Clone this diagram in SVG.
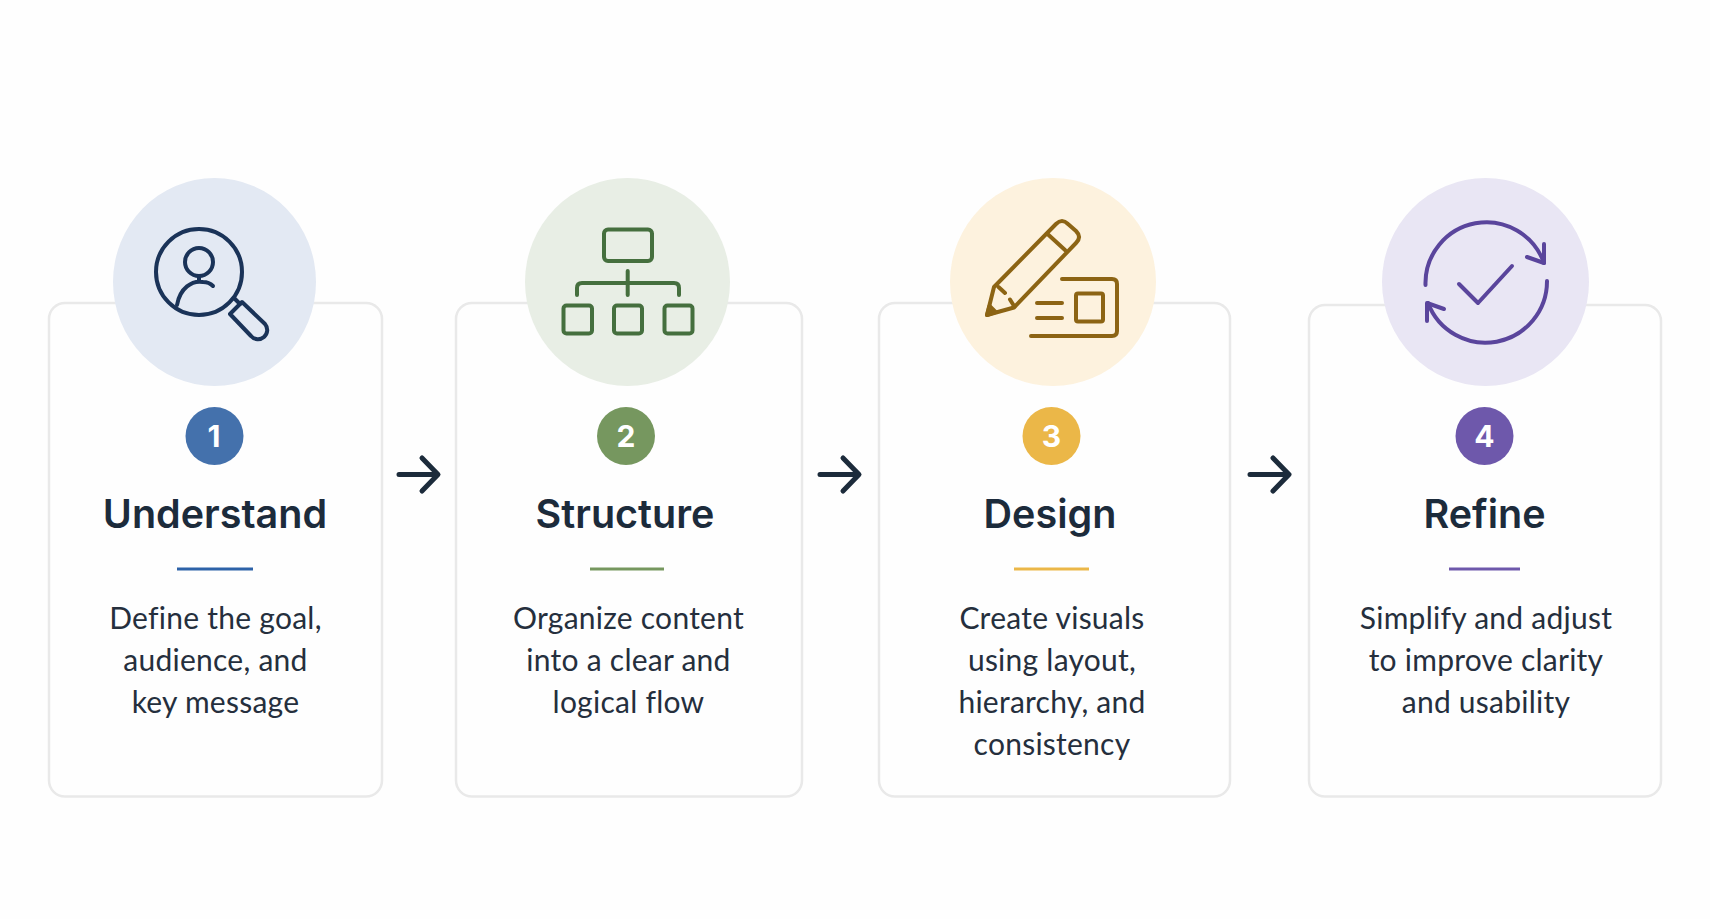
<svg xmlns="http://www.w3.org/2000/svg" width="1710" height="919" viewBox="0 0 1710 919">
<defs><style>
.card{fill:#fefefe;stroke:#e9e9e9;stroke-width:2.5}
.t{font-family:Inter,"Noto Sans",sans-serif;font-weight:600;font-size:39.5px;fill:#1c2b3b;text-anchor:middle}
.b{font-family:Lato,"Noto Sans",sans-serif;font-size:30px;letter-spacing:.25px;fill:#252f3d;text-anchor:middle}
.n{font-family:Inter,"Noto Sans",sans-serif;font-weight:700;font-size:30px;fill:#fff;text-anchor:middle}
.i{fill:none;stroke-width:4;stroke-linecap:round;stroke-linejoin:round}
.a{fill:none;stroke:#1c2b3b;stroke-width:5;stroke-linecap:round;stroke-linejoin:round}
</style></defs>
<rect width="1710" height="919" fill="#fefefe"/>
<g id="connectors">
<path class="a" d="M399 474.500H437M422 458L438 474.500L422 491"/>
<path class="a" d="M820 474.500H858M843 458L859 474.500L843 491"/>
<path class="a" d="M1250 474.500H1288M1273 458L1289 474.500L1273 491"/>
</g>
<g id="step1">
<rect class="card" x="49" y="303" width="333" height="493.500" rx="16"/>
<ellipse cx="214.500" cy="282" rx="101.500" ry="104" fill="#e3e9f3"/>
<g class="i" stroke="#1a3358">
<circle cx="199" cy="272" r="43"/>
<circle cx="199" cy="262" r="14"/>
<path d="M177 305C180 288 192 280 203 282C207 282 211 284 213 286M199 276V281"/>
<path d="M234 298L240 304"/>
<path d="M230 314L251 336A8.500 8.500 0 0 0 265 324L242 302Z"/>
</g>
<circle cx="214.500" cy="436" r="29" fill="#4471ac"/>
<text class="n" x="214" y="447">1</text>
<text class="t" x="215" y="528">Understand</text>
<rect x="177" y="567.500" width="76" height="3" fill="#2d62a8"/>
<text class="b" x="215.500" y="629">Define the goal,</text>
<text class="b" x="215.500" y="671">audience, and</text>
<text class="b" x="215.500" y="713">key message</text>
</g>
<g id="step2">
<rect class="card" x="456" y="303" width="346" height="493.500" rx="16"/>
<ellipse cx="627.500" cy="282" rx="102.500" ry="104" fill="#e8eee5"/>
<g class="i" stroke="#456f3e">
<rect x="604" y="229.500" width="48" height="31.500" rx="4"/>
<path d="M627.700 271V295M577 295V288Q577 283 582 283H674Q679 283 679 288V295"/>
<rect x="563.500" y="305.500" width="28.500" height="28" rx="3"/>
<rect x="614" y="305.500" width="28" height="28" rx="3"/>
<rect x="664.500" y="305.500" width="28" height="28" rx="3"/>
</g>
<circle cx="626" cy="436" r="29" fill="#76975f"/>
<text class="n" x="626" y="447">2</text>
<text class="t" x="625" y="528">Structure</text>
<rect x="590" y="567.500" width="74" height="3" fill="#76975f"/>
<text class="b" x="628.500" y="629">Organize content</text>
<text class="b" x="628.500" y="671">into a clear and</text>
<text class="b" x="628.500" y="713">logical flow</text>
</g>
<g id="step3">
<rect class="card" x="879" y="303" width="351" height="493.500" rx="16"/>
<ellipse cx="1053" cy="282" rx="103" ry="104" fill="#fdf2de"/>
<g class="i" stroke="#8c6414">
<path d="M994 287L1056 224Q1062 218 1068 224L1076 231Q1082 237 1076 243L1014 307.500L987 315Z"/>
<path d="M1047 233.500L1065 250M998.500 287L1005 293M1010 299.500L1014 306"/>
<path d="M1062 279H1112Q1117 279 1117 284V331Q1117 336 1112 336H1031"/>
<rect x="1076" y="293.500" width="27" height="28" rx="2"/>
<path d="M1037 303H1062M1037 318H1062"/>
<path d="M987 315L989.500 306L995.500 312Z" fill="#8c6414"/>
</g>
<circle cx="1051.500" cy="436" r="29" fill="#ebb748"/>
<text class="n" x="1051.500" y="447">3</text>
<text class="t" x="1050" y="528">Design</text>
<rect x="1014" y="567.500" width="75" height="3" fill="#ebb748"/>
<text class="b" x="1052" y="629">Create visuals</text>
<text class="b" x="1052" y="671">using layout,</text>
<text class="b" x="1052" y="713">hierarchy, and</text>
<text class="b" x="1052" y="755">consistency</text>
</g>
<g id="step4">
<rect class="card" x="1309" y="305" width="352" height="491.500" rx="16"/>
<ellipse cx="1485.500" cy="282" rx="103.500" ry="104" fill="#e9e6f4"/>
<g class="i" stroke="#5a459c">
<path d="M1425.500 285A61 61 0 0 1 1544 263"/>
<path d="M1544 244V263L1527 257"/>
<path d="M1547 281A61.500 61.500 0 0 1 1428 303"/>
<path d="M1427 321V303L1444 309"/>
<path d="M1459 284L1478 303L1512 266"/>
</g>
<circle cx="1484.500" cy="436" r="29" fill="#6e58ab"/>
<text class="n" x="1484.500" y="447">4</text>
<text class="t" x="1484.500" y="528">Refine</text>
<rect x="1449" y="567.500" width="71" height="3" fill="#6e58ab"/>
<text class="b" x="1486" y="629">Simplify and adjust</text>
<text class="b" x="1486" y="671">to improve clarity</text>
<text class="b" x="1486" y="713">and usability</text>
</g>
</svg>
